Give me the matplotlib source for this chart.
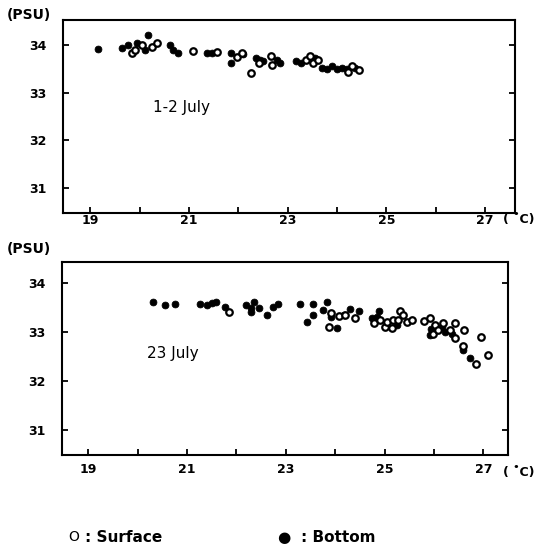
import matplotlib.pyplot as plt
from matplotlib.ticker import MultipleLocator

# 1-2 July: temperature (C) / salinity (PSU)
jul1_surf_t = [19.85, 19.91, 20.05, 20.25, 20.35, 21.08, 21.57, 21.97, 22.07, 22.25, 22.41, 22.66,
               22.68, 23.38, 23.45, 23.51, 23.62, 24.22, 24.3, 24.45]
jul1_surf_s = [33.83, 33.90, 34.00, 33.96, 34.04, 33.87, 33.85, 33.75, 33.83, 33.41, 33.62, 33.77,
               33.58, 33.69, 33.76, 33.62, 33.69, 33.44, 33.55, 33.48]
jul1_bot_t = [19.16, 19.65, 19.77, 19.95, 20.11, 20.17, 20.62, 20.68, 20.78, 21.37, 21.47, 21.85,
              21.85, 22.09, 22.35, 22.44, 22.5, 22.78, 22.85, 23.17, 23.28, 23.55, 23.7, 23.8,
              23.9, 24.0, 24.1, 24.2, 24.36]
jul1_bot_s = [33.92, 33.94, 34.00, 34.04, 33.90, 34.21, 34.00, 33.90, 33.83, 33.83, 33.83, 33.84,
              33.63, 33.81, 33.73, 33.69, 33.66, 33.69, 33.63, 33.67, 33.62, 33.73, 33.52, 33.50,
              33.55, 33.50, 33.52, 33.50, 33.52]

# 23 July
jul23_surf_t = [21.85, 23.88, 23.91, 24.07, 24.19, 24.4, 24.78, 24.91, 25.01, 25.05, 25.15, 25.18,
                25.28, 25.32, 25.38, 25.45, 25.55, 25.79, 25.92, 25.98, 26.02, 26.09, 26.19, 26.33,
                26.43, 26.43, 26.6, 26.58, 26.86, 26.96, 27.1]
jul23_surf_s = [33.41, 33.10, 33.38, 33.33, 33.35, 33.28, 33.18, 33.24, 33.11, 33.21, 33.08, 33.24,
                33.24, 33.43, 33.35, 33.21, 33.24, 33.22, 33.28, 32.97, 33.14, 33.04, 33.18, 33.04,
                33.18, 32.87, 33.04, 32.71, 32.35, 32.90, 32.54]
jul23_bot_t = [20.32, 20.56, 20.76, 21.27, 21.4, 21.5, 21.59, 21.77, 22.2, 22.3, 22.3, 22.35,
               22.45, 22.62, 22.74, 22.85, 23.29, 23.44, 23.55, 23.55, 23.75, 23.83, 23.92, 24.03,
               24.17, 24.3, 24.49, 24.74, 24.84, 24.89, 25.25, 25.92, 25.95, 26.16, 26.23, 26.36,
               26.58, 26.73]
jul23_bot_s = [33.62, 33.55, 33.57, 33.57, 33.55, 33.59, 33.62, 33.52, 33.55, 33.50, 33.40, 33.62,
               33.50, 33.35, 33.51, 33.57, 33.57, 33.21, 33.57, 33.35, 33.45, 33.61, 33.30, 33.08,
               33.35, 33.47, 33.43, 33.28, 33.31, 33.43, 33.14, 32.94, 33.07, 33.11, 33.01, 32.97,
               32.63, 32.48]

x_ticks = [19, 21, 23, 25, 27]
y_ticks = [31, 32, 33, 34]

panels = [
    (jul1_surf_t, jul1_surf_s, jul1_bot_t, jul1_bot_s, "1-2 July", (20.85, 32.69),
     [0.117, 0.611, 0.838, 0.352], (18.45, 27.6), (30.48, 34.52), 1.0, 0.598),
    (jul23_surf_t, jul23_surf_s, jul23_bot_t, jul23_bot_s, "23 July", (20.72, 32.57),
     [0.115, 0.168, 0.8275, 0.353], (18.47, 27.5), (30.49, 34.43), 5.5, 0.137),
]

plt.rcParams['font.family'] = 'DejaVu Sans'
fig = plt.figure(figsize=(5.39, 5.47), dpi=100)

for st, ss, bt, bs, label, lpos, rect, xl, yl, xpad, cy in panels:
    ax = fig.add_axes(rect)
    ax.scatter(bt, bs, s=24, c='black', edgecolors='black', linewidths=0.6, zorder=3)
    ax.scatter(st, ss, s=22, facecolors='white', edgecolors='black', linewidths=1.6, zorder=4)
    ax.set_xlim(*xl)
    ax.set_ylim(*yl)
    ax.set_xticks(x_ticks)
    ax.xaxis.set_minor_locator(MultipleLocator(1))
    ax.set_yticks(y_ticks)
    ax.tick_params(axis='x', which='both', direction='in', length=4, width=1.3, pad=xpad,
                   labelsize=9)
    ax.tick_params(axis='y', which='both', direction='in', length=4, width=1.3, right=True,
                   pad=12, labelsize=9)
    for lab in ax.get_xticklabels() + ax.get_yticklabels():
        lab.set_fontweight('bold')
    for sp in ax.spines.values():
        sp.set_linewidth(1.5)
    ax.text(lpos[0], lpos[1], label, fontsize=11, ha='center', va='center')
    fig.text(0.933, cy, "( ˚C)", fontsize=9, fontweight='bold', ha='left', va='center')

fig.text(0.012, 0.973, "(PSU)", fontsize=10, fontweight='bold', ha='left', va='center')
fig.text(0.012, 0.545, "(PSU)", fontsize=10, fontweight='bold', ha='left', va='center')

fig.text(0.126, 0.018, "O", fontsize=10, ha='left', va='center')
fig.text(0.158, 0.018, ": Surface", fontsize=11, fontweight='bold', ha='left', va='center')
fig.text(0.514, 0.018, "●", fontsize=11, ha='left', va='center')
fig.text(0.558, 0.018, ": Bottom", fontsize=11, fontweight='bold', ha='left', va='center')

fig.savefig("out.png", dpi=100)
